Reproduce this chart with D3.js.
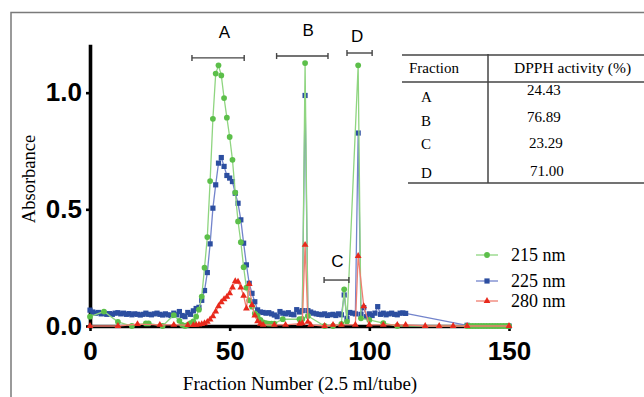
<!DOCTYPE html>
<html>
<head>
<meta charset="utf-8">
<script src="https://cdn.jsdelivr.net/npm/d3@7"></script>
<style>
  body { margin: 0; background: #fff; }
  svg { display: block; }
</style>
</head>
<body>
<div id="chart"></div>
<script>
// ---- data ----
const xTicks = [0, 50, 100, 150];
const yTicks = [0, 0.5, 1.0];

// 225 nm (blue squares)
const frac225 = [0,1,2,3,4,5,6,7,8,9,10,11,12,13,14,15,16,17,18,19,20,21,22,23,24,25,26,27,28,29,
  30,31,32,33,34,35,36,37,38,39,40,41,42,43,44,45,46,47,48,49,50,51,52,53,54,55,56,57,58,59,
  60,61,62,63,64,65,66,67,68,69,70,71,72,73,74,75,76,77,78,79,80,81,82,83,84,85,86,87,88,89,
  90,91,92,93,94,95,96,97,98,99,100,101,102,103,104,105,106,107,108,109,110,111,112,113,135,150];
const abs225 = [0.068,0.060,0.055,0.058,0.052,0.055,0.050,0.053,0.050,0.055,0.057,0.052,0.055,0.050,0.053,0.048,0.052,0.050,0.047,0.050,
  0.055,0.050,0.048,0.052,0.055,0.050,0.047,0.052,0.048,0.045,0.055,0.048,0.062,0.045,0.040,0.058,0.050,0.065,0.075,0.080,
  0.110,0.152,0.229,0.352,0.505,0.605,0.698,0.722,0.684,0.645,0.634,0.619,0.569,0.526,0.455,0.355,0.262,0.183,0.140,0.104,
  0.069,0.060,0.058,0.055,0.057,0.052,0.047,0.040,0.062,0.055,0.052,0.057,0.050,0.048,0.070,0.060,0.066,0.988,0.066,0.060,
  0.055,0.052,0.050,0.048,0.052,0.045,0.048,0.050,0.045,0.052,0.048,0.133,0.033,0.058,0.055,0.052,0.827,0.050,0.079,0.040,
  0.052,0.045,0.055,0.083,0.050,0.055,0.048,0.052,0.055,0.050,0.048,0.055,0.056,0.054,0.003,0.0];

// 215 nm (green circles)
const frac215 = [0,5,10,15,20,21,26,30,32,33,34,35,36,37,38,39,40,41,42,43,44,45,46,47,48,49,
  50,51,52,53,54,55,56,57,58,59,60,61,62,63,64,65,66,69,75,76,77,78,84,87,90,91,92,96,97,100,105,110,
  135,136,137,138,139,140,141,142,143,144,145,146,147,148,149,150];
const abs215 = [0.040,0.062,0.018,0.0,0.011,0.011,0.0,0.047,0.022,0.005,0.0,0.005,0.012,0.020,0.040,0.070,0.126,0.250,0.381,0.621,0.888,1.082,1.117,1.074,0.977,0.893,
  0.810,0.712,0.572,0.448,0.359,0.252,0.164,0.110,0.083,0.054,0.043,0.026,0.015,0.012,0.010,0.010,0.010,0.029,0.029,0.030,1.127,0.043,0.0,0.0,0.009,0.157,0.019,1.117,0.033,0.026,0.012,0.0,
  0,0,0,0,0,0,0,0,0,0,0,0,0,0,0,0];

// 280 nm (red triangles)
const frac280 = [0,10,17,25,30,35,37,38,39,40,41,42,43,44,45,46,47,48,49,50,51,52,53,54,55,56,57,58,59,60,61,62,66,
  70,75,76,77,78,79,84,87,90,95,96,98,100,105,110,113,120,125,130,135,150];
const abs280 = [0.0,0.0,0.008,0.005,0.005,0.004,0.004,0.005,0.006,0.008,0.012,0.018,0.028,0.042,0.062,0.085,0.102,0.115,0.125,0.140,0.165,0.192,0.190,0.165,0.130,0.075,0.180,0.090,0.045,0.020,0.010,0.005,0.005,
  0.005,0.010,0.012,0.348,0.018,0.005,0.0,0.005,0.005,0.005,0.300,0.085,0.005,0.005,0.005,0.005,0.0,0.0,0.0,0.0,0.0];

// fraction brackets
const bracketNames = ["A", "B", "C", "D"];
const bracketFrom = [36.5, 66.8, 83.8, 92.0];
const bracketTo = [55.2, 85.2, 92.7, 101.0];
const bracketLevel = [1.149, 1.157, 0.197, 1.170];
const labelFrac = [48.1, 78.1, 88.6, 95.6];
const labelLevel = [1.234, 1.243, 0.253, 1.217];

// table
const tableFractions = ["A", "B", "C", "D"];
const tableDpph = ["24.43", "76.89", "23.29", "71.00"];

const width = 644, height = 397;
const svg = d3.select("#chart").append("svg")
  .attr("width", width).attr("height", height);

// outer frame (top/left)
svg.append("path")
  .attr("d", "M11,397 L11,12.5 L644,12.5")
  .attr("fill", "none").attr("stroke", "#7a7a7a").attr("stroke-width", 1.5);

let x = d3.scaleLinear().domain([0, 150]).range([90, 509]);
let y = d3.scaleLinear().domain([0, 1.2]).range([326, 46]);

// axes
let gx = svg.append("g")
  .attr("transform", `translate(0,${y(0)})`)
  .call(d3.axisBottom(x).tickValues(xTicks).tickSize(5).tickSizeOuter(0).tickPadding(10.5).tickFormat(d3.format("d")));
let gy = svg.append("g")
  .attr("transform", `translate(${x(0)},0)`)
  .call(d3.axisLeft(y).tickValues(yTicks).tickSize(4).tickSizeOuter(0).tickPadding(4).tickFormat(d3.format(".1f")));

for (let g of [gx, gy]) {
  g.select(".domain").attr("stroke", "#000").attr("stroke-width", 3.6).attr("stroke-linecap", "square");
  g.selectAll(".tick line").attr("stroke", "#000").attr("stroke-width", 2.6);
  g.selectAll(".tick text")
    .attr("fill", "#000")
    .style("font-family", "'Liberation Sans', Arial, sans-serif")
    .style("font-weight", "bold")
    .style("font-size", "26px");
}

// axis titles
svg.append("text")
  .text("Fraction Number (2.5 ml/tube)")
  .attr("x", 300).attr("y", 390)
  .attr("text-anchor", "middle")
  .style("font-family", "'Liberation Serif', 'Times New Roman', serif")
  .style("font-size", "19px");

svg.append("text")
  .text("Absorbance")
  .attr("transform", "translate(35,179) rotate(-90)")
  .attr("text-anchor", "middle")
  .style("font-family", "'Liberation Serif', 'Times New Roman', serif")
  .style("font-size", "18.5px");

// series
const series = [
  { name: "225 nm", xs: frac225, ys: abs225, line: "#7384cc", mark: "#2c4ea0", sym: d3.symbolSquare, size: 27 },
  { name: "215 nm", xs: frac215, ys: abs215, line: "#8fd580", mark: "#5cbf4a", sym: d3.symbolCircle, size: 26 },
  { name: "280 nm", xs: frac280, ys: abs280, line: "#f07e70", mark: "#e8291c", sym: d3.symbolTriangle, size: 20 }
];

let line = d3.line()
  .x(d => x(d[0]))
  .y(d => y(d[1]));

for (let s of series) {
  let pts = s.xs.map((f, i) => [f, s.ys[i]]);
  let g = svg.append("g").attr("class", "data");
  g.append("path")
    .datum(pts)
    .attr("fill", "none")
    .attr("stroke", s.line)
    .attr("stroke-width", 1.3)
    .attr("d", line);
  g.selectAll("path.pt")
    .data(pts)
    .join("path")
    .attr("class", "pt")
    .attr("transform", d => `translate(${x(d[0])},${y(d[1])})`)
    .attr("d", d3.symbol().type(s.sym).size(s.size))
    .attr("fill", s.mark);
}

// brackets
let br = svg.append("g").attr("stroke", "#444").attr("stroke-width", 1.4);
bracketNames.forEach((n, i) => {
  let yy = y(bracketLevel[i]);
  br.append("line").attr("x1", x(bracketFrom[i])).attr("x2", x(bracketTo[i])).attr("y1", yy).attr("y2", yy);
  br.append("line").attr("x1", x(bracketFrom[i])).attr("x2", x(bracketFrom[i])).attr("y1", yy - 3).attr("y2", yy + 3);
  br.append("line").attr("x1", x(bracketTo[i])).attr("x2", x(bracketTo[i])).attr("y1", yy - 3).attr("y2", yy + 3);
  svg.append("text")
    .text(n)
    .attr("x", x(labelFrac[i]))
    .attr("y", y(labelLevel[i]))
    .attr("text-anchor", "middle")
    .style("font-family", "'Liberation Sans', Arial, sans-serif")
    .style("font-size", "17px");
});

// legend (215, 225, 280 order)
const legendOrder = [1, 0, 2];
const legendY = [255, 281, 301];
legendOrder.forEach((k, i) => {
  let s = series[k];
  let lg = svg.append("g").attr("transform", `translate(476,${legendY[i]})`);
  lg.append("line").attr("x1", 0).attr("x2", 22).attr("stroke", s.line).attr("stroke-width", 1.3);
  lg.append("path").attr("transform", "translate(11,0)")
    .attr("d", d3.symbol().type(s.sym).size(s.size)).attr("fill", s.mark);
  lg.append("text").text(s.name)
    .attr("x", 35).attr("y", 6)
    .style("font-family", "'Liberation Serif', 'Times New Roman', serif")
    .style("font-size", "18px");
});

// table
let tb = svg.append("g");
const tfont = "'Liberation Serif', 'Times New Roman', serif";
tb.append("line").attr("x1", 402).attr("x2", 644).attr("y1", 55).attr("y2", 55).attr("stroke", "#444").attr("stroke-width", 1.5);
tb.append("line").attr("x1", 402).attr("x2", 644).attr("y1", 82).attr("y2", 82).attr("stroke", "#444").attr("stroke-width", 1.5);
tb.append("line").attr("x1", 408).attr("x2", 644).attr("y1", 183).attr("y2", 183).attr("stroke", "#444").attr("stroke-width", 1.5);
tb.append("line").attr("x1", 488).attr("x2", 488).attr("y1", 54).attr("y2", 183).attr("stroke", "#444").attr("stroke-width", 1.5);
tb.append("text").text("Fraction").attr("x", 409).attr("y", 73)
  .style("font-family", tfont).style("font-size", "15px");
tb.append("text").text("DPPH activity (%)").attr("x", 514).attr("y", 73)
  .style("font-family", tfont).style("font-size", "15.5px");
const rowLetterY = [102, 126, 149, 178];
const rowValueY = [95, 122, 148, 176];
const rowValueX = [527, 527, 529, 530];
tableFractions.forEach((f, i) => {
  tb.append("text").text(f).attr("x", 421).attr("y", rowLetterY[i])
    .style("font-family", tfont).style("font-size", "15px");
  tb.append("text").text(tableDpph[i]).attr("x", rowValueX[i]).attr("y", rowValueY[i])
    .style("font-family", tfont).style("font-size", "15px");
});
</script>
</body>
</html>
